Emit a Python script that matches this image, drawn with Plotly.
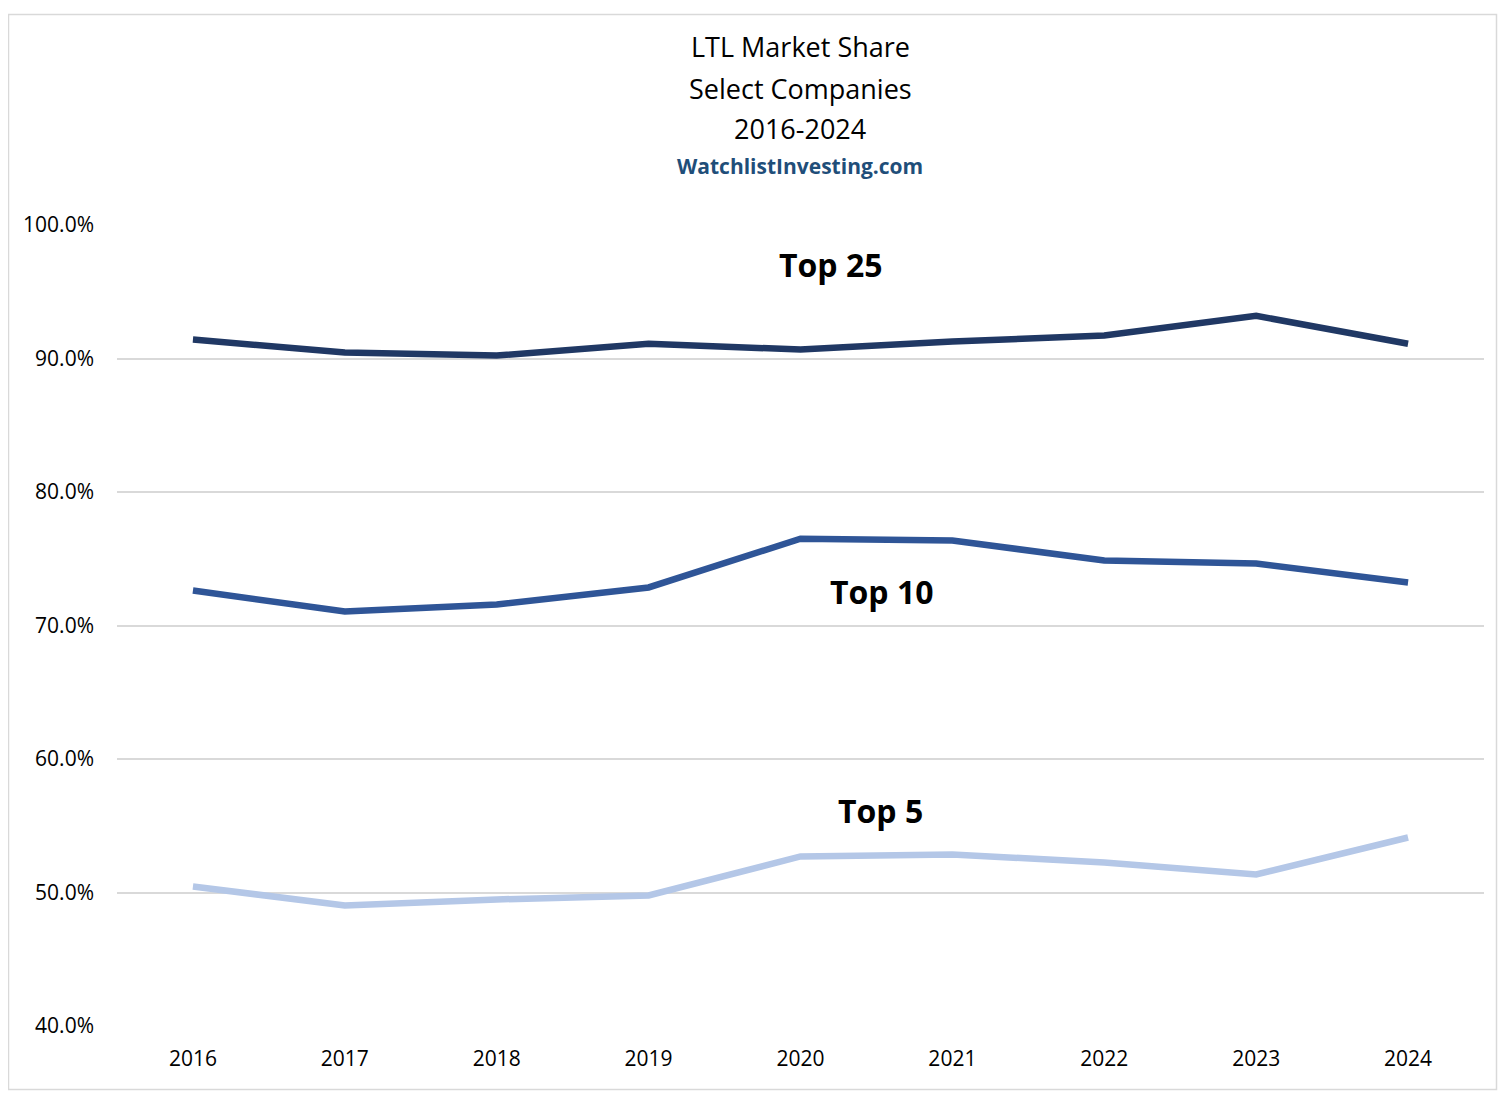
import plotly.graph_objects as go

years = ["2016", "2017", "2018", "2019", "2020", "2021", "2022", "2023", "2024"]
top25 = [91.42, 90.45, 90.22, 91.10, 90.67, 91.27, 91.72, 93.20, 91.10]
top10 = [72.62, 71.05, 71.57, 72.85, 76.50, 76.37, 74.87, 74.64, 73.22]
top5 = [50.45, 49.03, 49.48, 49.78, 52.70, 52.85, 52.25, 51.35, 54.12]
series_names = ["Top 25", "Top 10", "Top 5"]
y_ticks = [40, 50, 60, 70, 80, 90, 100]
y_tick_labels = [f"{v:.1f}%" for v in y_ticks]

colors = ["#203864", "#2F5597", "#B4C7E7"]
FONT = "Open Sans"

fig = go.Figure()
for name, vals, col in zip(series_names, [top25, top10, top5], colors):
    fig.add_trace(go.Scatter(x=years, y=vals, mode="lines", name=name,
                             line=dict(color=col, width=6.5)))

OFF = 8  # page body margin
W, H = 1510, 1109
# screen-pixel plot bounds from the reference
L, R, T, B = 117, 1484, 225, 1026
ml, mt = L - OFF, T - OFF
mr, mb = W - (R - OFF), H - (B - OFF)
pw, ph = W - ml - mr, H - mt - mb

def px(x):
    return (x - OFF - ml) / pw

def py(y):
    return (H - mb - (y - OFF)) / ph

annotations = [
    dict(text="LTL Market Share", x=px(800), y=py(47), size=27, color="#000000"),
    dict(text="Select Companies", x=px(800), y=py(88), size=27, color="#000000"),
    dict(text="2016-2024", x=px(800), y=py(129), size=27, color="#000000"),
    dict(text="<b>WatchlistInvesting.com</b>", x=px(800), y=py(166), size=21, color="#1F4E79"),
    dict(text="<b>Top 25</b>", x=px(831), y=py(264), size=32, color="#000000"),
    dict(text="<b>Top 10</b>", x=px(882), y=py(591), size=32, color="#000000"),
    dict(text="<b>Top 5</b>", x=px(880), y=py(810), size=32, color="#000000"),
]
for a in annotations:
    fig.add_annotation(text=a["text"], x=a["x"], y=a["y"], xref="paper", yref="paper",
                       showarrow=False, xanchor="center", yanchor="middle",
                       font=dict(family=FONT, size=a["size"], color=a["color"]))

fig.add_shape(type="rect", xref="paper", yref="paper",
              x0=px(8.5), x1=px(1496.5), y0=py(1089.5), y1=py(14.5),
              line=dict(color="#D9D9D9", width=1.5), fillcolor="rgba(0,0,0,0)", layer="below")

fig.update_layout(
    width=W, height=H,
    margin=dict(l=ml, r=mr, t=mt, b=mb),
    paper_bgcolor="white", plot_bgcolor="white",
    showlegend=False,
    font=dict(family=FONT, color="#000000"),
    xaxis=dict(type="category", range=[-0.5, 8.5], showgrid=False, zeroline=False,
               showline=False, ticks="", tickfont=dict(size=21, color="#000000"),
               ticklabelstandoff=18),
    yaxis=dict(range=[40, 100], tickvals=y_ticks, ticktext=y_tick_labels,
               showgrid=True, gridcolor="#D9D9D9", gridwidth=1.5, zeroline=False,
               showline=False, ticks="", tickfont=dict(size=21, color="#000000"),
               ticklabelstandoff=22),
)

fig.write_html("out.html")
